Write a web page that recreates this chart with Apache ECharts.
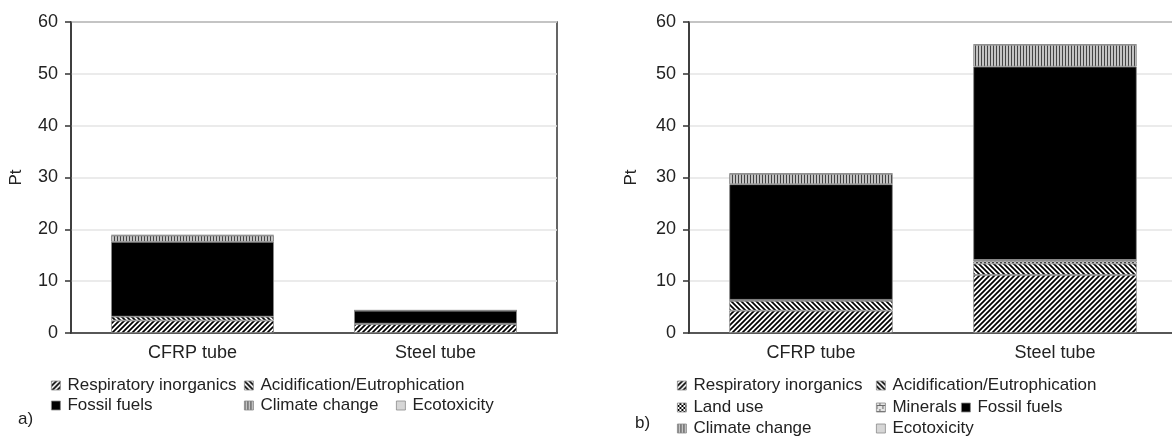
<!DOCTYPE html>
<html>
<head>
<meta charset="utf-8">
<script src="https://cdn.jsdelivr.net/npm/echarts@6/dist/echarts.min.js"></script>
<style>
  html, body { margin: 0; padding: 0; background: #fff; }
  #chart { width: 1172px; height: 437px; }
</style>
</head>
<body>
<div id="chart"></div>
<script>
// Categories and tick labels
const categories = ['CFRP tube', 'Steel tube'];
const yTicks = [0, 10, 20, 30, 40, 50, 60];

// Panel a) impact contributions (Pt), bottom to top of each stack
const aRespiratory = [2.4, 1.7];
const aAcidification = [0.75, 0.1];
const aFossil = [14.45, 2.5];
const aClimate = [1.2, 0.05];
const aEcotoxicity = [0.1, 0.02];

// Panel b) impact contributions (Pt), bottom to top of each stack
const bRespiratory = [4.3, 11.2];
const bAcidification = [1.9, 2.2];
const bLandUse = [0.1, 0.4];
const bMinerals = [0.1, 0.3];
const bFossil = [22.3, 37.3];
const bClimate = [2.0, 4.2];
const bEcotoxicity = [0.1, 0.1];

const FONT = '"Liberation Sans", Arial, sans-serif';
const TEXT = '#222';

// ---- hatch fills drawn on small tiles ----
function tile(w, h, draw) {
  const c = document.createElement('canvas');
  c.width = w; c.height = h;
  const g = c.getContext('2d');
  draw(g, w, h);
  return { image: c, repeat: 'repeat' };
}
function diag(forward) {
  return tile(5, 5, (g, w, h) => {
    g.fillStyle = '#fff'; g.fillRect(0, 0, w, h);
    g.strokeStyle = '#000'; g.lineWidth = 1.7;
    g.beginPath();
    for (let k = -1; k <= 1; k++) {
      if (forward) { g.moveTo(k * w - 1, h + 1); g.lineTo(k * w + w + 1, -1); }
      else { g.moveTo(k * w - 1, -1); g.lineTo(k * w + w + 1, h + 1); }
    }
    g.stroke();
  });
}
const fillRespiratory = diag(true);
const fillAcidification = diag(false);
const fillLandUse = tile(4, 4, (g) => {
  g.fillStyle = '#000'; g.fillRect(0, 0, 4, 4);
  g.fillStyle = '#fff'; g.fillRect(0, 0, 2, 2); g.fillRect(2, 2, 2, 2);
});
const fillMinerals = tile(6, 6, (g) => {
  g.fillStyle = '#e4e4e4'; g.fillRect(0, 0, 6, 6);
  g.fillStyle = '#666'; g.fillRect(0, 2, 6, 1); g.fillRect(3, 0, 1, 2); g.fillRect(0, 3, 1, 3);
});
const fillClimate = tile(3, 3, (g) => {
  g.fillStyle = '#c4c4c4'; g.fillRect(0, 0, 3, 3);
  g.fillStyle = '#444'; g.fillRect(0, 0, 1, 3);
});
const fillFossil = '#000';
const fillEcotoxicity = '#d6d6d6';

const styles = {
  'Respiratory inorganics': fillRespiratory,
  'Acidification/Eutrophication': fillAcidification,
  'Land use': fillLandUse,
  'Minerals': fillMinerals,
  'Fossil fuels': fillFossil,
  'Climate change': fillClimate,
  'Ecotoxicity': fillEcotoxicity
};

function bar(name, data, panel) {
  return {
    name: name, type: 'bar', stack: 'p' + panel,
    xAxisIndex: panel, yAxisIndex: panel,
    barWidth: '67%', data: data,
    itemStyle: { color: styles[name], borderColor: '#8a8a8a', borderWidth: 0.8 },
    emphasis: { disabled: true }
  };
}

const series = [
  bar('Respiratory inorganics', aRespiratory, 0),
  bar('Acidification/Eutrophication', aAcidification, 0),
  bar('Fossil fuels', aFossil, 0),
  bar('Climate change', aClimate, 0),
  bar('Ecotoxicity', aEcotoxicity, 0),
  bar('Respiratory inorganics', bRespiratory, 1),
  bar('Acidification/Eutrophication', bAcidification, 1),
  bar('Land use', bLandUse, 1),
  bar('Minerals', bMinerals, 1),
  bar('Fossil fuels', bFossil, 1),
  bar('Climate change', bClimate, 1),
  bar('Ecotoxicity', bEcotoxicity, 1)
];

// legend entries: name, left, top
const legendLayout = [
  ['Respiratory inorganics', 51, 377], ['Acidification/Eutrophication', 244, 377],
  ['Fossil fuels', 51, 397], ['Climate change', 244, 397], ['Ecotoxicity', 396, 397],
  ['Respiratory inorganics', 677, 377], ['Acidification/Eutrophication', 876, 377],
  ['Land use', 677, 399], ['Minerals', 876, 399], ['Fossil fuels', 961, 399],
  ['Climate change', 677, 420], ['Ecotoxicity', 876, 420]
];
const legends = legendLayout.map(([name, x, y]) => ({
  data: [name], left: x, top: y, padding: 0,
  itemWidth: 9, itemHeight: 9, icon: 'rect',
  itemStyle: { borderColor: '#8a8a8a', borderWidth: 0.8 },
  selectedMode: false,
  textStyle: { fontFamily: FONT, fontSize: 17, color: TEXT, padding: [0, 0, 0, 2] }
}));

function yAxis(gridIndex, nameGap) {
  return {
    gridIndex: gridIndex, type: 'value', min: yTicks[0], max: yTicks[yTicks.length - 1], interval: 10,
    name: 'Pt', nameLocation: 'middle', nameGap: nameGap, nameRotate: 90,
    nameTextStyle: { fontFamily: FONT, fontSize: 17, color: TEXT },
    axisLine: { show: true, lineStyle: { color: '#333', width: 1.5 } },
    axisTick: { show: true, inside: false, length: 6, lineStyle: { color: '#333', width: 1.5 } },
    axisLabel: { fontFamily: FONT, fontSize: 18, color: TEXT, margin: 13 },
    splitLine: { show: true, lineStyle: { color: '#e4e4e4', width: 1.5 } }
  };
}
function xAxis(gridIndex) {
  return {
    gridIndex: gridIndex, type: 'category', data: categories,
    axisLine: { show: true, lineStyle: { color: '#333', width: 1.5 } },
    axisTick: { show: false },
    axisLabel: { fontFamily: FONT, fontSize: 18, color: TEXT, margin: 11 }
  };
}

const chart = echarts.init(document.getElementById('chart'), null, { renderer: 'canvas' });
chart.setOption({
  animation: false,
  backgroundColor: '#fff',
  title: [
    { text: 'a)', left: 18, top: 411, padding: 0, textStyle: { fontFamily: FONT, fontSize: 17, fontWeight: 'normal', color: TEXT } },
    { text: 'b)', left: 635, top: 415, padding: 0, textStyle: { fontFamily: FONT, fontSize: 17, fontWeight: 'normal', color: TEXT } }
  ],
  grid: [
    { left: 71, top: 22, width: 486, height: 311, show: true, borderColor: '#333', borderWidth: 1.5, outerBoundsMode: 'none', containLabel: false },
    { left: 689, top: 22, width: 488, height: 311, show: true, borderColor: '#333', borderWidth: 1.5, outerBoundsMode: 'none', containLabel: false }
  ],
  xAxis: [xAxis(0), xAxis(1)],
  yAxis: [yAxis(0, 46), yAxis(1, 49)],
  legend: legends,
  series: series
});
</script>
</body>
</html>
